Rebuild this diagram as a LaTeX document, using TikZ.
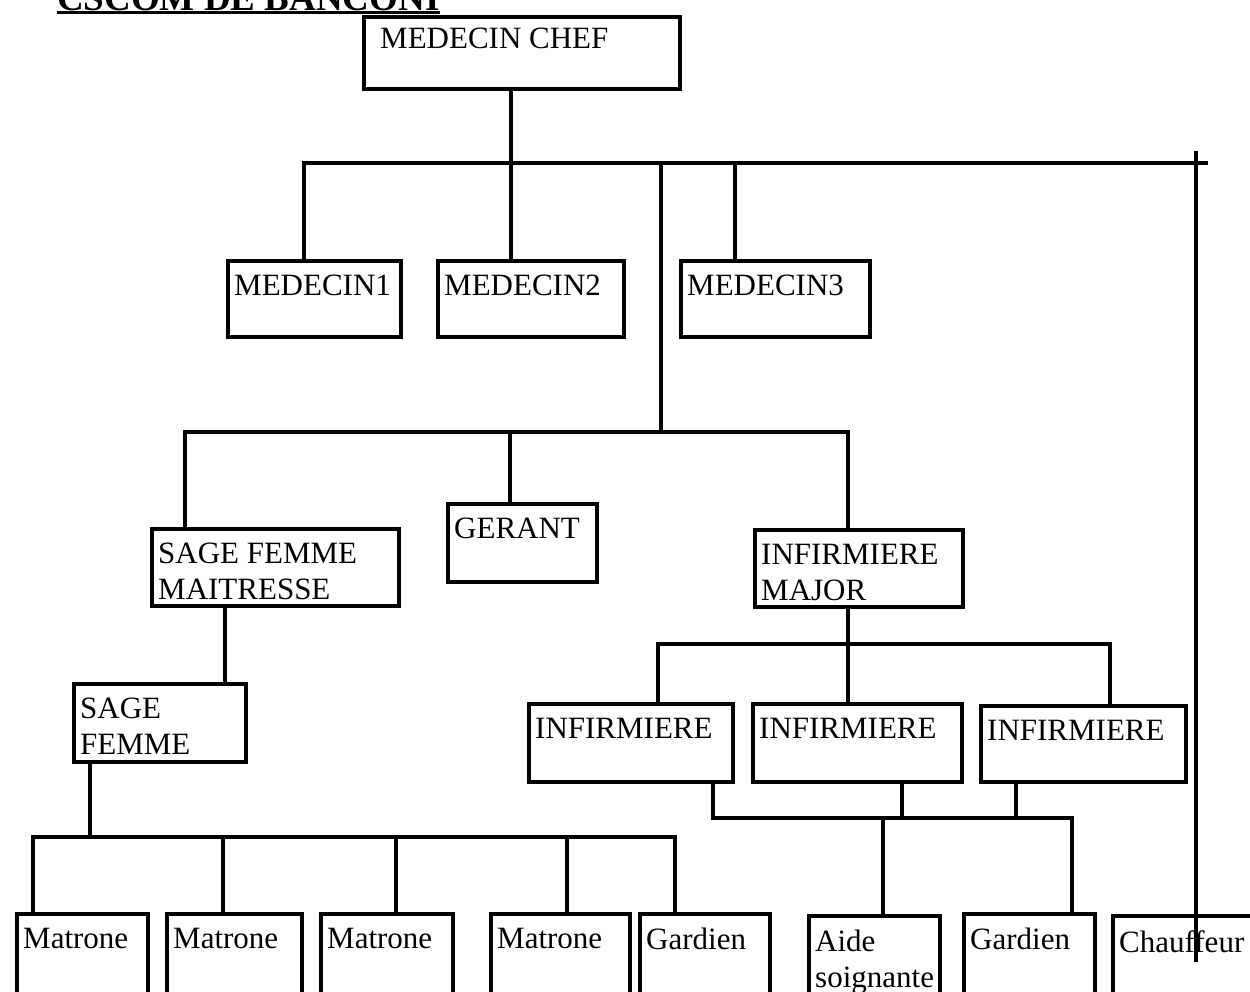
\documentclass[tikz,border=0pt]{standalone}
\usepackage{fontspec}
\setmainfont{Liberation Serif}

\begin{document}
\begin{tikzpicture}[
    x=1pt, y=-1pt,
    unit/.style={draw, line width=4.2pt, anchor=north west, inner sep=0pt},
    txt/.style={anchor=north west, inner sep=0pt, align=left, xshift=8pt, yshift=-16pt, font=\fontsize{31}{36}\selectfont},
    head/.style={anchor=base west, inner sep=0pt, font=\bfseries\fontsize{37}{40}\selectfont},
    wire/.style={line width=3.2pt, line cap=rect}
]
\useasboundingbox (0,0) rectangle (1250,991);
\clip (0,0) rectangle (1250,991);

\node[head] (title) at (57,10) {CSCOM DE BANCONI};
\draw[line width=2.5pt] ([yshift=-2.5pt]title.base west) -- ([yshift=-2.5pt]title.base east);

\node[unit, minimum width=316, minimum height=72, label={[txt, xshift=10pt, yshift=3pt]north west:MEDECIN CHEF}] (chef) at (362,15) {};
\node[unit, minimum width=173, minimum height=76, label={[txt]north west:MEDECIN1}] (med1) at (226,259) {};
\node[unit, minimum width=186, minimum height=76, label={[txt]north west:MEDECIN2}] (med2) at (436,259) {};
\node[unit, minimum width=189, minimum height=76, label={[txt]north west:MEDECIN3}] (med3) at (679,259) {};
\node[unit, minimum width=247, minimum height=77, label={[txt]north west:SAGE FEMME\\MAITRESSE}] (sfm) at (150,527) {};
\node[unit, minimum width=149, minimum height=78, label={[txt]north west:GERANT}] (gerant) at (446,502) {};
\node[unit, minimum width=208, minimum height=77, label={[txt]north west:INFIRMIERE\\MAJOR}] (major) at (753,528) {};
\node[unit, minimum width=172, minimum height=78, label={[txt]north west:SAGE\\FEMME}] (sf) at (72,682) {};
\node[unit, minimum width=204, minimum height=78, label={[txt]north west:INFIRMIERE}] (inf1) at (527,702) {};
\node[unit, minimum width=209, minimum height=78, label={[txt]north west:INFIRMIERE}] (inf2) at (751,702) {};
\node[unit, minimum width=205, minimum height=76, label={[txt]north west:INFIRMIERE}] (inf3) at (979,704) {};
\node[unit, minimum width=131, minimum height=98, label={[txt]north west:Matrone}] (mat1) at (15,912) {};
\node[unit, minimum width=135, minimum height=98, label={[txt]north west:Matrone}] (mat2) at (165,912) {};
\node[unit, minimum width=132, minimum height=98, label={[txt]north west:Matrone}] (mat3) at (319,912) {};
\node[unit, minimum width=139, minimum height=98, label={[txt]north west:Matrone}] (mat4) at (489,912) {};
\node[unit, minimum width=130, minimum height=98, label={[txt]north west:Gardien}] (gard1) at (638,912) {};
\node[unit, minimum width=131, minimum height=98, label={[txt]north west:Aide\\soignante}] (aide) at (807,914) {};
\node[unit, minimum width=131, minimum height=98, label={[txt]north west:Gardien}] (gard2) at (962,912) {};
\node[unit, minimum width=150, minimum height=98, label={[txt]north west:Chauffeur}] (chauf) at (1111,914) {};

\coordinate (barAl) at (304,163);
\coordinate (barAr) at (1206,163);
\coordinate (barAm) at (511,163);
\coordinate (barAg) at (661,163);
\coordinate (barAd) at (735,163);
\coordinate (chfA) at (1196,153);
\coordinate (chfB) at (1196,960);
\coordinate (barBl) at (185,432);
\coordinate (barBm) at (510,432);
\coordinate (barBr) at (848,432);
\coordinate (sfx) at (225,604);
\coordinate (barCl) at (33,837);
\coordinate (barCs) at (90,837);
\coordinate (barC2) at (223,837);
\coordinate (barC3) at (396,837);
\coordinate (barC4) at (567,837);
\coordinate (barCr) at (675,837);
\coordinate (barDl) at (658,644);
\coordinate (barDm) at (848,644);
\coordinate (barDr) at (1110,644);
\coordinate (barEl) at (713,818);
\coordinate (barE2) at (902,818);
\coordinate (barE3) at (1016,818);
\coordinate (barEa) at (883,818);
\coordinate (barEr) at (1072,818);

\draw[wire] (chef.south -| barAm) -- (med2.north -| barAm);
\draw[wire] (barAl) -- (barAr);
\draw[wire] (barAl) -- (med1.north -| barAl);
\draw[wire] (barAd) -- (med3.north -| barAd);
\draw[wire] (barAg) -- (barBl -| barAg);
\draw[wire] (chfA) -- (chfB);

\draw[wire] (barBl) -- (barBr);
\draw[wire] (barBl) -- (sfm.north -| barBl);
\draw[wire] (barBm) -- (gerant.north -| barBm);
\draw[wire] (barBr) -- (major.north -| barBr);

\draw[wire] (sfm.south -| sfx) -- (sf.north -| sfx);
\draw[wire] (sf.south -| barCs) -- (barCs);
\draw[wire] (barCl) -- (barCr);
\foreach \c/\n in {barCl/mat1, barC2/mat2, barC3/mat3, barC4/mat4, barCr/gard1}
    \draw[wire] (\c) -- (\n.north -| \c);

\draw[wire] (major.south -| barDm) -- (barDm);
\draw[wire] (barDl) -- (barDr);
\foreach \c/\n in {barDl/inf1, barDm/inf2, barDr/inf3}
    \draw[wire] (\c) -- (\n.north -| \c);

\draw[wire] (inf1.south -| barEl) -- (barEl) -- (barEr) -- (gard2.north -| barEr);
\draw[wire] (inf2.south -| barE2) -- (barE2);
\draw[wire] (inf3.south -| barE3) -- (barE3);
\draw[wire] (barEa) -- (aide.north -| barEa);
\end{tikzpicture}
\end{document}
